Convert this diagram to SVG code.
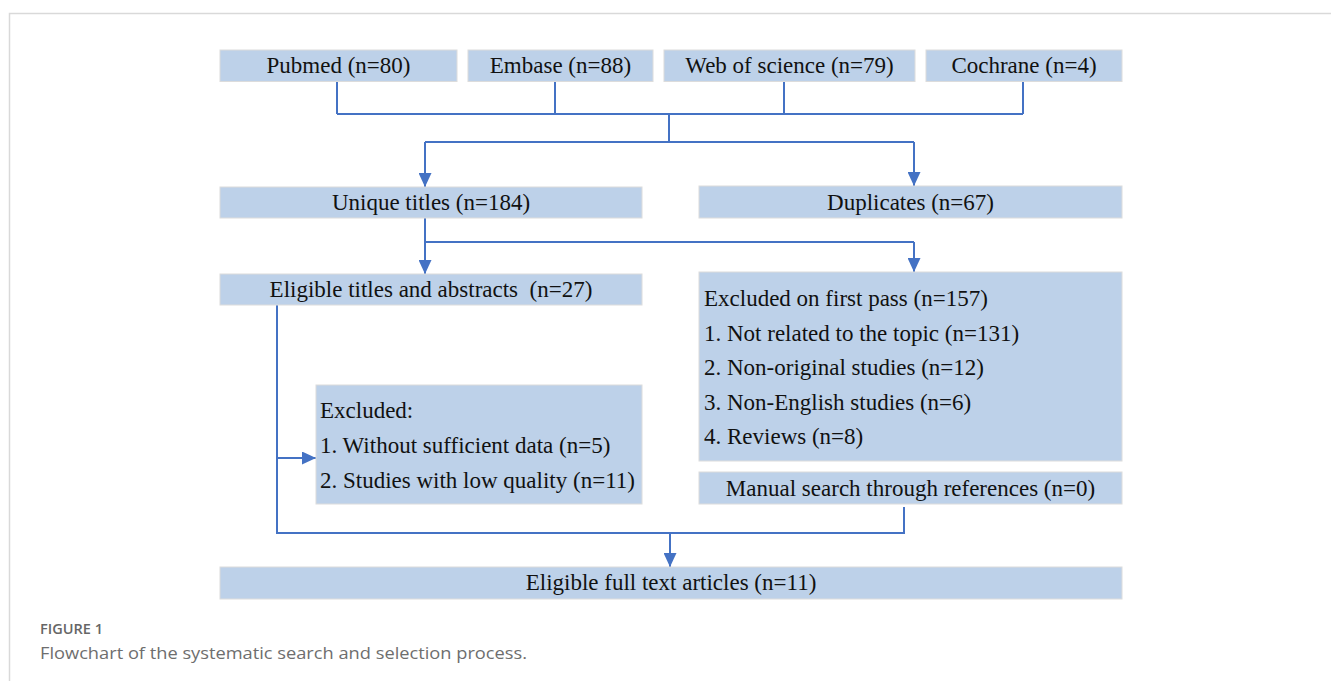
<svg xmlns="http://www.w3.org/2000/svg" width="1331" height="681" viewBox="0 0 1331 681">
<defs>
<marker id="arr" markerUnits="userSpaceOnUse" markerWidth="14" markerHeight="13" refX="14" refY="6.5" orient="auto">
<path d="M0,0 L14,6.5 L0,13 z" fill="#4472c4"/>
</marker>
<style>
.box{fill:#bdd1e9;stroke:#dcdcdc;stroke-width:1}
.t{font-family:"Liberation Serif","Times New Roman",serif;font-size:23px;fill:#111}
.c{text-anchor:middle}
.ln{fill:none;stroke:#4472c4;stroke-width:2}
.ar{fill:none;stroke:#4472c4;stroke-width:2;marker-end:url(#arr)}
.frame{fill:none;stroke:#d9d9d9;stroke-width:1.5}
.cap1{font-family:"Open Sans","Liberation Sans",sans-serif;font-size:14px;font-weight:600;fill:#666}
.cap2{font-family:"Open Sans","Liberation Sans",sans-serif;font-size:17px;fill:#6e6e6e}
</style>
</defs>
<rect width="1331" height="681" fill="#fff"/>
<path class="frame" d="M9.5,681 V13.5 H1331"/>

<g id="connectors">
<path class="ln" d="M337,81 V114 M555,81 V114 M784,81 V114 M1023,81 V114 M337,114 H1023 M669,114 V142 M425,142 H914"/>
<path class="ar" d="M425,142 V187"/>
<path class="ar" d="M914,142 V186"/>
<path class="ln" d="M425,218 V242 H914"/>
<path class="ar" d="M425,242 V274"/>
<path class="ar" d="M914,242 V272"/>
<path class="ln" d="M277,305 V534 M277,533 H904 V507"/>
<path class="ar" d="M277,458 H316"/>
<path class="ar" d="M670,533 V567"/>
</g>

<g id="pubmed"><rect class="box" x="220" y="50" width="237" height="31.5"/><text class="t c" x="338.5" y="73">Pubmed (n=80)</text></g>
<g id="embase"><rect class="box" x="468" y="50" width="185" height="31.5"/><text class="t c" x="560.5" y="73">Embase (n=88)</text></g>
<g id="wos"><rect class="box" x="664" y="50" width="251" height="31.5"/><text class="t c" x="789.5" y="73">Web of science (n=79)</text></g>
<g id="cochrane"><rect class="box" x="926" y="50" width="196" height="31.5"/><text class="t c" x="1024" y="73">Cochrane (n=4)</text></g>

<g id="unique"><rect class="box" x="220" y="187" width="422" height="31"/><text class="t c" x="431" y="210">Unique titles (n=184)</text></g>
<g id="duplicates"><rect class="box" x="699" y="186" width="423" height="32"/><text class="t c" x="910.5" y="210">Duplicates (n=67)</text></g>

<g id="eligible-abstracts"><rect class="box" x="220" y="274" width="422" height="31"/><text class="t c" x="431" y="297" xml:space="preserve">Eligible titles and abstracts  (n=27)</text></g>

<g id="excluded-first"><rect class="box" x="699" y="272" width="423" height="189"/>
<text class="t" x="704" y="306">Excluded on first pass (n=157)</text>
<text class="t" x="704" y="341">1. Not related to the topic (n=131)</text>
<text class="t" x="704" y="375">2. Non-original studies (n=12)</text>
<text class="t" x="704" y="410">3. Non-English studies (n=6)</text>
<text class="t" x="704" y="444">4. Reviews (n=8)</text>
</g>

<g id="excluded"><rect class="box" x="316" y="385" width="326" height="119"/>
<text class="t" x="320" y="418">Excluded:</text>
<text class="t" x="320" y="453">1. Without sufficient data (n=5)</text>
<text class="t" x="320" y="488">2. Studies with low quality (n=11)</text>
</g>

<g id="manual"><rect class="box" x="699" y="472" width="423" height="32"/><text class="t c" x="910.5" y="496">Manual search through references (n=0)</text></g>

<g id="fulltext"><rect class="box" x="220" y="567" width="902" height="32"/><text class="t c" x="671" y="590">Eligible full text articles (n=11)</text></g>

<text class="cap1" x="40" y="634" textLength="63" lengthAdjust="spacingAndGlyphs">FIGURE 1</text>
<text class="cap2" x="40" y="659" textLength="487" lengthAdjust="spacingAndGlyphs">Flowchart of the systematic search and selection process.</text>
</svg>
